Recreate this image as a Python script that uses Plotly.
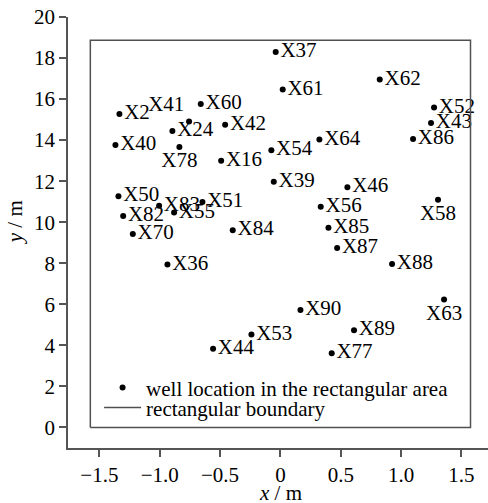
import plotly.graph_objects as go

well_names = ["X2", "X40", "X41", "X60", "X24", "X78", "X42", "X16", "X50", "X83",
              "X51", "X82", "X55", "X70", "X84", "X36", "X44", "X37", "X61", "X62",
              "X52", "X43", "X86", "X64", "X54", "X39", "X46", "X56", "X58", "X85",
              "X87", "X88", "X63", "X90", "X89", "X53", "X77"]
well_x = [-1.334, -1.367, -0.757, -0.660, -0.895, -0.837, -0.458, -0.491, -1.342, -1.005,
          -0.646, -1.303, -0.881, -1.223, -0.395, -0.936, -0.558, -0.039, 0.019, 0.823,
          1.273, 1.248, 1.099, 0.323, -0.075, -0.055, 0.555, 0.334, 1.306, 0.398,
          0.470, 0.925, 1.356, 0.166, 0.610, -0.240, 0.425]
well_y = [15.27, 13.76, 14.91, 15.76, 14.45, 13.67, 14.75, 12.99, 11.27, 10.80,
          10.99, 10.31, 10.48, 9.43, 9.61, 7.94, 3.83, 18.29, 16.47, 16.96,
          15.59, 14.83, 14.05, 14.03, 13.51, 11.97, 11.71, 10.75, 11.09, 9.73,
          8.74, 7.96, 6.24, 5.72, 4.74, 4.53, 3.62]
label_pos = {"X41": "top left", "X78": "bottom center", "X58": "bottom center",
             "X63": "bottom center"}
positions = [label_pos.get(n, "middle right") for n in well_names]

rect_x = [-1.575, 1.575, 1.575, -1.575, -1.575]
rect_y = [0, 0, 18.87, 18.87, 0]

x_ticks = [-1.5, -1.0, -0.5, 0, 0.5, 1.0, 1.5]
x_tick_text = ["\u22121.5", "\u22121.0", "\u22120.5", "0", "0.5", "1.0", "1.5"]
y_ticks = [0, 2, 4, 6, 8, 10, 12, 14, 16, 18, 20]

FONT = "'Liberation Serif', 'Times New Roman', 'DejaVu Serif', serif"
FS = 21

fig = go.Figure()
fig.add_trace(go.Scatter(
    x=well_x, y=well_y, mode="markers+text", text=well_names,
    textposition=positions,
    textfont=dict(family=FONT, size=FS, color="black"),
    marker=dict(color="black", size=6),
    name="well location in the rectangular area",
    legend="legend",
))
fig.add_trace(go.Scatter(
    x=rect_x, y=rect_y, mode="lines",
    line=dict(color="#505050", width=1.5),
    name="rectangular boundary",
    legend="legend2",
))

axis_common = dict(
    showgrid=False, zeroline=False, showline=True, linecolor="#555555", linewidth=1.5,
    ticks="outside", ticklen=7, tickwidth=1.5, tickcolor="#555555",
    tickfont=dict(family=FONT, size=FS, color="black"),
    mirror=False,
)

legend_common = dict(xanchor="left", yanchor="top", bgcolor="rgba(0,0,0,0)",
                     borderwidth=0, font=dict(family=FONT, size=FS, color="black"),
                     itemwidth=37)

fig.update_layout(
    width=488, height=503,
    margin=dict(l=68, r=0, t=17, b=55),
    plot_bgcolor="white", paper_bgcolor="white",
    font=dict(family=FONT, color="black"),
    xaxis=dict(range=[-1.76, 1.72], tickvals=x_ticks, ticktext=x_tick_text, **axis_common),
    yaxis=dict(range=[-1, 20], tickvals=y_ticks, **axis_common),
    showlegend=True,
    legend=dict(x=0.074, y=0.187, **legend_common),
    legend2=dict(x=0.074, y=0.141, **legend_common),
    annotations=[
        dict(text="<i>x</i> / m", xref="x", yref="paper", x=0, y=0, yshift=-45,
             showarrow=False, xanchor="center", yanchor="middle",
             font=dict(family=FONT, size=FS, color="black")),
        dict(text="<i>y</i> / m", xref="paper", yref="y", x=0, y=10, xshift=-53,
             showarrow=False, textangle=-90, xanchor="center", yanchor="middle",
             font=dict(family=FONT, size=FS, color="black")),
    ],
)

fig.write_html("out.html")
